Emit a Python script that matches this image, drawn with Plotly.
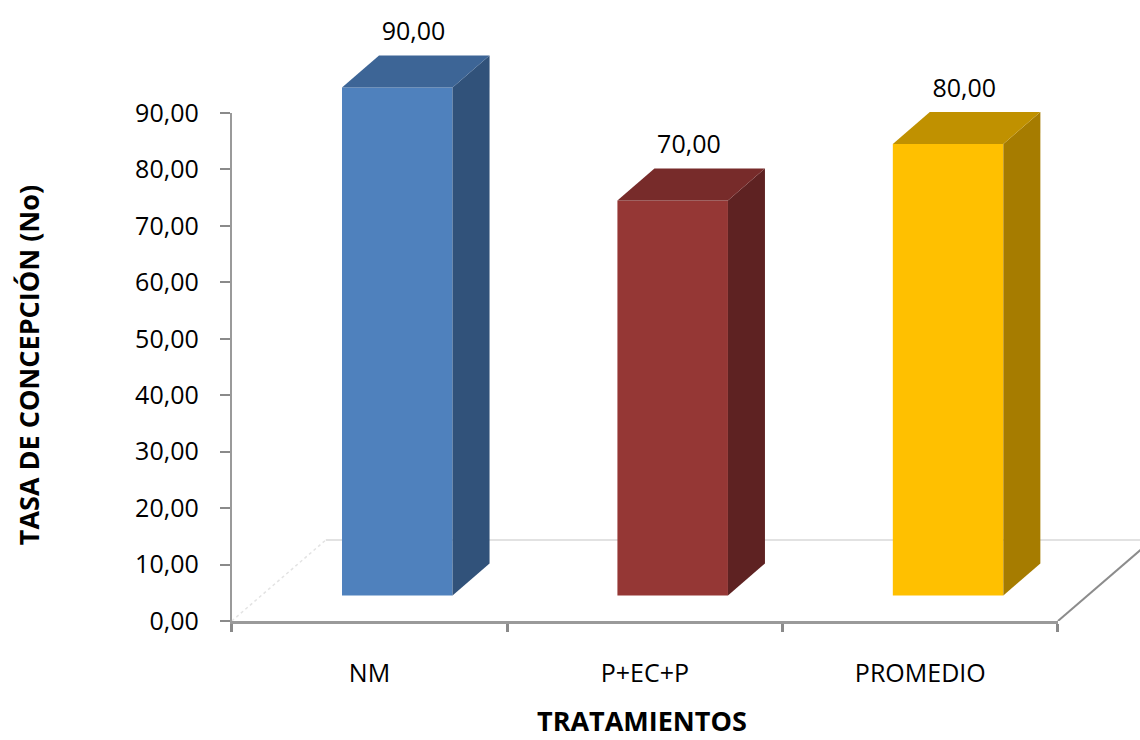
import plotly.graph_objects as go

# ---------------- data ----------------
categories = ["NM", "P+EC+P", "PROMEDIO"]
values = [90.0, 70.0, 80.0]
value_labels = ["90,00", "70,00", "80,00"]
y_ticks = [0, 10, 20, 30, 40, 50, 60, 70, 80, 90]
y_tick_labels = ["0,00", "10,00", "20,00", "30,00", "40,00",
                 "50,00", "60,00", "70,00", "80,00", "90,00"]
y_title = "TASA DE CONCEPCIÓN (No)"
x_title = "TRATAMIENTOS"

# ---------------- styles ----------------
front_colors = ["#4F81BD", "#953735", "#FFC000"]
top_colors = ["#3D6596", "#772B2A", "#C09100"]
side_colors = ["#31527A", "#5E2222", "#A67C00"]
FONT = "Open Sans"

# ---------------- geometry ----------------
W, H = 1140, 740
AX_L, AX_R = 232.0, 1058.0   # front x-axis pixel extent
AX_B, AX_T = 621.0, 113.0    # pixel of y=0 and y=90
PX_X = (AX_R - AX_L) / 3.0
PX_Y = (AX_B - AX_T) / 90.0
X0 = -0.05
plot_l = AX_L + X0 * PX_X
plot_w = W - plot_l
top_margin = 10.0
plot_h = AX_B - top_margin
x_end = X0 + plot_w / PX_X
y_end = plot_h / PX_Y

BAR_BASE = 25.5 / PX_Y        # front face lifted (depth position)
BAR_SHIFT = 27.8 / PX_X       # front face shifted right
BAR_W = 110.5 / PX_X
DEP_X = 37.0 / PX_X           # bar depth projection
DEP_Y = 32.0 / PX_Y
FLOOR_X = 94.0 / PX_X         # floor depth projection
FLOOR_Y = 81.0 / PX_Y
LABEL_DX = 0.16
LABEL_DY = 14.0

fig = go.Figure()

# bars: front faces
xc = [i + 0.5 + BAR_SHIFT for i in range(len(categories))]
fig.add_trace(go.Bar(x=xc, y=values, base=BAR_BASE, width=BAR_W,
                     marker=dict(color=front_colors, line=dict(width=0)),
                     hoverinfo="skip", showlegend=False))

# side and top faces
for i, v in enumerate(values):
    xl = xc[i] - BAR_W / 2
    xr = xc[i] + BAR_W / 2
    b = BAR_BASE
    t = BAR_BASE + v
    fig.add_trace(go.Scatter(x=[xr, xr + DEP_X, xr + DEP_X, xr, xr],
                             y=[b, b + DEP_Y, t + DEP_Y, t, b],
                             fill="toself", fillcolor=side_colors[i], mode="lines",
                             line=dict(width=0, color=side_colors[i]),
                             hoverinfo="skip", showlegend=False))
    fig.add_trace(go.Scatter(x=[xl, xl + DEP_X, xr + DEP_X, xr, xl],
                             y=[t, t + DEP_Y, t + DEP_Y, t, t],
                             fill="toself", fillcolor=top_colors[i], mode="lines",
                             line=dict(width=0, color=top_colors[i]),
                             hoverinfo="skip", showlegend=False))

# value labels
fig.add_trace(go.Scatter(x=[i + 0.5 + LABEL_DX for i in range(len(values))],
                         y=[v + LABEL_DY for v in values],
                         text=value_labels, mode="text",
                         textfont=dict(family=FONT, size=25, color="#000000"),
                         cliponaxis=False, hoverinfo="skip", showlegend=False))

# dummy trace for the visible axes
fig.add_trace(go.Scatter(x=[0], y=[0], xaxis="x2", yaxis="y2", mode="markers",
                         marker=dict(opacity=0), hoverinfo="skip", showlegend=False))

# floor (behind the bars)
shapes = [
    dict(type="line", xref="x", yref="y", x0=FLOOR_X, y0=FLOOR_Y, x1=x_end + 0.1, y1=FLOOR_Y,
         line=dict(color="#d9d9d9", width=1.5), layer="below"),
    dict(type="line", xref="x", yref="y", x0=0, y0=0, x1=FLOOR_X, y1=FLOOR_Y,
         line=dict(color="#e3e3e3", width=1.5, dash="dot"), layer="below"),
    dict(type="line", xref="x", yref="y", x0=3, y0=0, x1=3 + FLOOR_X, y1=FLOOR_Y,
         line=dict(color="#8c8c8c", width=2), layer="below"),
]

d0 = (AX_L - plot_l) / plot_w
d1 = (AX_R - plot_l) / plot_w
dy = (AX_B - AX_T) / plot_h

fig.update_layout(
    template="none",
    width=W, height=H,
    margin=dict(l=plot_l, r=0, t=top_margin, b=H - AX_B, pad=0),
    paper_bgcolor="white", plot_bgcolor="rgba(0,0,0,0)",
    showlegend=False,
    shapes=shapes,
    xaxis=dict(domain=[0, 1], range=[X0, x_end], tickvals=[0.5, 1.5, 2.5], ticktext=categories,
               ticks="", showline=False, showgrid=False, zeroline=False, automargin=False,
               tickfont=dict(family=FONT, size=25, color="#000000"), ticklabelstandoff=35),
    yaxis=dict(domain=[0, 1], range=[0, y_end], showticklabels=False, showgrid=False,
               zeroline=False, showline=False, ticks="", automargin=False),
    xaxis2=dict(domain=[d0, d1], range=[0, 3], anchor="y2", tickvals=[0, 1, 2, 3],
                ticks="outside", ticklen=8, tickwidth=3, tickcolor="#8a8a8a",
                showticklabels=False, showline=True, linecolor="#9a9a9a", linewidth=2.5,
                showgrid=False, zeroline=False, automargin=False),
    yaxis2=dict(domain=[0, dy], range=[0, 90], anchor="x2", tickvals=y_ticks, ticktext=y_tick_labels,
                ticks="outside", ticklen=10, tickwidth=2, tickcolor="#8a8a8a",
                showline=True, linecolor="#9a9a9a", linewidth=2,
                showgrid=False, zeroline=False, automargin=False,
                tickfont=dict(family=FONT, size=25, color="#000000"), ticklabelstandoff=16),
    annotations=[
        dict(text=y_title, xref="paper", yref="paper",
             x=(29 - plot_l) / plot_w, y=(AX_B - 365.5) / plot_h,
             textangle=-90, showarrow=False, xanchor="center", yanchor="middle",
             font=dict(family=FONT, size=27, color="#000000", weight="bold")),
        dict(text=x_title, xref="paper", yref="paper",
             x=(642 - plot_l) / plot_w, y=-(720 - AX_B) / plot_h,
             showarrow=False, xanchor="center", yanchor="middle",
             font=dict(family=FONT, size=27, color="#000000", weight="bold")),
    ],
)

fig.write_html("out.html")
